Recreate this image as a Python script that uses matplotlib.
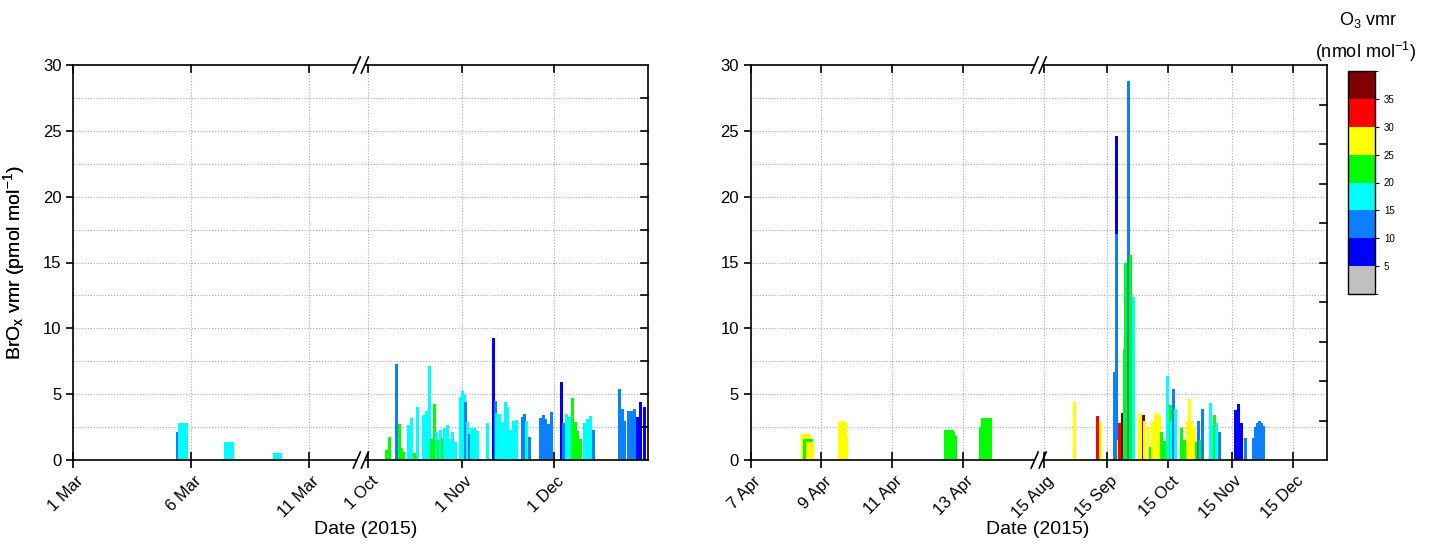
import numpy as np
import pandas as pd
import matplotlib
matplotlib.use("Agg")
import matplotlib.pyplot as plt
from matplotlib.colors import ListedColormap, BoundaryNorm
from matplotlib.cm import ScalarMappable
from matplotlib.ticker import MultipleLocator
from matplotlib.patches import Rectangle
from matplotlib.transforms import ScaledTranslation

plt.rcParams["font.family"] = ["Liberation Sans", "DejaVu Sans"]
plt.rcParams["mathtext.default"] = "regular"

# ---------------- data (day of year 2015, BrOx pmol/mol, O3 nmol/mol) ----------------
left_doy = [
    64.40, 64.49, 64.57, 64.65, 64.73, 64.79,
    66.47, 66.55, 66.63, 66.71, 66.77,
    68.55, 68.63, 68.71, 68.79,
    280.1, 281.3, 283.6, 284.4, 285.0, 285.9, 287.5, 288.3, 289.3, 290.3,
    292.4, 293.4, 294.4, 295.0, 296.0, 296.6, 297.3, 298.0, 298.4, 299.3,
    300.1, 300.9, 301.9, 302.9, 304.5, 305.1, 305.8, 306.1, 306.6, 307.3,
    308.1, 309.1, 310.0, 313.3, 315.4, 315.9, 316.4, 317.2, 318.2, 319.2,
    319.8, 320.8, 321.8, 322.8, 324.7, 325.4, 326.2, 327.2, 330.8, 331.6,
    332.4, 333.2, 334.2, 337.7, 338.3, 339.3, 340.1, 341.1, 342.1, 342.9,
    343.7, 345.0, 346.0, 347.0, 348.1, 356.6, 357.4, 358.2, 359.4, 360.4,
    361.4, 362.3, 363.6, 364.6,
]
left_brox = [
    2.15, 2.8, 2.8, 2.8, 2.8, 2.8,
    1.35, 1.35, 1.35, 1.35, 1.35,
    0.55, 0.55, 0.55, 0.55,
    0.76, 1.75, 7.27, 2.76, 0.9, 0.6, 2.66, 3.16, 0.5, 4.0,
    3.4, 3.7, 7.16, 1.6, 4.25, 2.1, 1.5, 2.3, 1.7, 2.4,
    2.66, 1.6, 2.15, 1.4, 4.8, 5.24, 4.9, 4.43, 2.9, 2.0,
    2.4, 2.4, 2.2, 2.8, 9.24, 4.5, 3.6, 3.5, 2.9, 4.4,
    4.05, 2.28, 3.0, 3.04, 3.3, 3.5, 3.0, 1.77, 3.16, 3.4,
    3.1, 2.7, 3.67, 5.95, 2.8, 3.5, 3.3, 4.7, 2.9, 2.2,
    1.6, 2.8, 3.1, 3.35, 2.28, 5.36, 3.9, 3.0, 3.7, 3.7,
    3.9, 3.3, 4.4, 4.05,
]
left_o3 = [
    12, 17, 17, 17, 17, 17,
    17, 17, 17, 17, 17,
    17, 17, 17, 17,
    22, 22, 12, 22, 22, 22, 17, 17, 22, 17,
    17, 17, 17, 22, 22, 17, 22, 17, 22, 17,
    17, 17, 17, 17, 17, 17, 17, 12, 17, 12,
    17, 17, 17, 17, 8, 12, 17, 17, 17, 17,
    17, 17, 17, 17, 12, 12, 17, 12, 12, 12,
    12, 12, 12, 8, 12, 17, 17, 22, 22, 22,
    22, 17, 17, 17, 12, 12, 12, 12, 12, 12,
    12, 8, 8, 8,
]

right_doy = [
    98.48, 98.53, 98.58, 98.63, 98.66,
    98.52, 98.57, 98.62, 98.67, 98.71,
    98.61, 98.66, 98.71, 98.74,
    99.52, 99.57, 99.62, 99.67, 99.72,
    102.50, 102.55, 102.60, 102.65, 102.70, 102.75, 102.79,
    103.50, 103.55, 103.60, 103.65, 103.70, 103.75, 103.80,
    241.8, 253.5, 254.6, 261.6, 262.6, 262.8, 263.5, 263.9, 265.5, 266.3,
    267.0, 268.5, 269.6, 271.0, 273.8, 275.0, 275.8, 276.5, 278.2, 279.5,
    280.4, 281.7, 282.9, 283.9, 284.6, 286.1, 287.8, 289.0, 289.7, 290.7,
    291.5, 294.5, 296.0, 297.6, 298.6, 299.5, 300.8, 302.0, 302.7, 303.7,
    304.8, 308.7, 309.8, 310.8, 311.8, 313.0, 320.9, 322.6, 323.9, 325.8,
    329.5, 330.7, 331.7, 332.5, 333.6, 334.8,
]
right_brox = [
    2.0, 2.0, 2.0, 2.0, 2.0,
    1.6, 1.6, 1.6, 1.6, 1.6,
    1.35, 1.35, 1.35, 1.35,
    2.9, 2.96, 2.96, 2.9, 1.8,
    2.25, 2.25, 2.25, 2.25, 2.25, 2.1, 1.8,
    2.5, 3.16, 3.16, 3.16, 3.16, 3.16, 3.16,
    4.4, 3.34, 2.9, 6.7, 24.6, 17.2, 1.5, 2.8, 3.55, 8.4,
    15.0, 28.8, 15.56, 12.4, 3.6, 3.1, 3.4, 3.0, 2.5, 1.0,
    2.9, 3.55, 3.5, 3.4, 2.1, 1.45, 6.38, 4.2, 3.0, 5.4,
    3.9, 2.4, 1.55, 3.0, 4.6, 3.0, 2.5, 1.4, 3.0, 1.5,
    3.85, 4.35, 2.6, 3.4, 2.8, 2.15, 3.8, 4.25, 2.8, 1.64,
    1.7, 2.5, 2.78, 2.98, 2.78, 2.6,
]
right_o3 = [
    27, 27, 27, 27, 27,
    22, 22, 22, 22, 22,
    27, 27, 27, 27,
    27, 27, 27, 27, 27,
    22, 22, 22, 22, 22, 22, 22,
    22, 22, 22, 22, 22, 22, 22,
    27, 32, 27, 12, 8, 12, 27, 32, 37, 22,
    22, 12, 22, 17, 27, 27, 37, 27, 27, 22,
    27, 27, 27, 27, 22, 22, 17, 22, 17, 12,
    17, 22, 22, 27, 27, 27, 27, 22, 12, 22,
    12, 17, 17, 22, 17, 12, 8, 8, 8, 12,
    12, 12, 12, 12, 12, 12,
]

left_tick_dates = ["2015-03-01", "2015-03-06", "2015-03-11",
                   "2015-10-01", "2015-11-01", "2015-12-01"]
left_tick_labels = ["1 Mar", "6 Mar", "11 Mar", "1 Oct", "1 Nov", "1 Dec"]
right_tick_dates = ["2015-04-07", "2015-04-09", "2015-04-11", "2015-04-13",
                    "2015-08-15", "2015-09-15", "2015-10-15", "2015-11-15", "2015-12-15"]
right_tick_labels = ["7 Apr", "9 Apr", "11 Apr", "13 Apr",
                     "15 Aug", "15 Sep", "15 Oct", "15 Nov", "15 Dec"]

o3_bounds = [0, 5, 10, 15, 20, 25, 30, 35, 40]
o3_colors = ["#c0c0c0", "#0000ff", "#0a80ff", "#00ffff",
             "#00ff00", "#ffff00", "#ff0000", "#800000"]
o3_ticks = [5, 10, 15, 20, 25, 30, 35]

# ---------------- layout ----------------
FIG_W, FIG_H = 1435, 549
BAR_PX = 3.0
left_box = (73.4, 65, 648.3, 460)        # left, top, right, bottom (px)
right_box = (750.7, 65, 1326.7, 460)
cbar_box = (1348, 71, 1375, 294)
left_segments = ((60.0, 72.2), (271.8, 366.0))
right_segments = ((97.0, 105.15), (224.5, 365.6))

cmap = ListedColormap(o3_colors)
norm = BoundaryNorm(o3_bounds, cmap.N)

GRID_KW = dict(color="#a8a8a8", linestyle=(0, (1, 1.6)), linewidth=0.8)


def to_doy(dates):
    return pd.to_datetime(pd.Series(dates)).dt.dayofyear.to_numpy(float)


def box_to_rect(box):
    l, t, r, b = box
    return [l / FIG_W, 1 - b / FIG_H, (r - l) / FIG_W, (b - t) / FIG_H]


def piecewise(seg):
    (a0, a1), (b0, b1) = seg

    def fwd(x):
        x = np.asarray(x, float)
        return np.where(x <= a1, 0.5 * (x - a0) / (a1 - a0),
                        np.where(x >= b0, 0.5 + 0.5 * (x - b0) / (b1 - b0), 0.5))

    def inv(y):
        y = np.asarray(y, float)
        return np.where(y <= 0.5, a0 + 2 * y * (a1 - a0),
                        b0 + 2 * (y - 0.5) * (b1 - b0))
    return fwd, inv


def draw_panel(ax, box, doy, brox, o3, seg, tick_dates, tick_labels, right_ticks):
    ax_px = box[2] - box[0]
    ax_hpx = box[3] - box[1]
    fwd, inv = piecewise(seg)
    ax.set_xscale("function", functions=(fwd, inv))
    ax.set_xlim(seg[0][0], seg[1][1])
    ax.set_ylim(0, 30)

    doy = np.asarray(doy, float)
    px_per_day = np.where(doy <= seg[0][1],
                          0.5 * ax_px / (seg[0][1] - seg[0][0]),
                          0.5 * ax_px / (seg[1][1] - seg[1][0]))
    ax.bar(doy, brox, width=BAR_PX / px_per_day, color=cmap(norm(np.asarray(o3))),
           linewidth=0, zorder=2)

    ticks = to_doy(tick_dates)
    ax.set_xticks(ticks)
    ax.set_xticklabels(tick_labels, rotation=45, ha="right", va="center",
                       rotation_mode="anchor")
    ax.tick_params(axis="x", direction="inout", length=11, width=1.2,
                   labelsize=12, pad=8)
    off = ScaledTranslation(8 / 100, 0, ax.figure.dpi_scale_trans)
    for lab in ax.get_xticklabels():
        lab.set_transform(lab.get_transform() + off)

    ax.set_yticks(range(0, 31, 5))
    ax.yaxis.set_minor_locator(MultipleLocator(2.5))
    ax.tick_params(axis="y", which="major", direction="out", length=5,
                   width=1.2, labelsize=12)
    ax.tick_params(axis="y", which="minor", length=0)

    ax.set_axisbelow(True)
    ax.grid(True, axis="y", which="both", **GRID_KW)
    ax.grid(True, axis="x", which="major", **GRID_KW)

    for sp in ax.spines.values():
        sp.set_linewidth(1.2)

    # inward ticks on top and right spines
    for t in ticks:
        ax.plot([t, t], [1, 1 - 7 / ax_hpx], transform=ax.get_xaxis_transform(),
                color="black", lw=1.2, clip_on=False, zorder=4)
    for v in right_ticks:
        ax.plot([1, 1 - 7 / ax_px], [v, v], transform=ax.get_yaxis_transform(),
                color="black", lw=1.2, clip_on=False, zorder=4)

    # axis break marks
    gx = 4 / ax_px
    for y in (0, 1):
        ax.add_patch(Rectangle((0.5 - gx, y - 2 / ax_hpx), 2 * gx, 4 / ax_hpx,
                               transform=ax.transAxes, facecolor="white",
                               edgecolor="none", clip_on=False, zorder=5))
        for cx in (0.5 - gx, 0.5 + gx):
            ax.plot([cx - 3.5 / ax_px, cx + 3.5 / ax_px],
                    [y - 8 / ax_hpx, y + 8 / ax_hpx],
                    transform=ax.transAxes, color="black", lw=1.2,
                    clip_on=False, zorder=6)

    ax.set_ylabel(r"BrO$_x$ vmr (pmol mol$^{-1}$)", fontsize=14)
    ax.yaxis.set_label_coords((27 - box[0]) / ax_px, 0.5)


fig = plt.figure(figsize=(FIG_W / 100, FIG_H / 100), dpi=100)
axL = fig.add_axes(box_to_rect(left_box))
axR = fig.add_axes(box_to_rect(right_box))

draw_panel(axL, left_box, left_doy, left_brox, left_o3, left_segments,
           left_tick_dates, left_tick_labels, np.arange(2.5, 30, 2.5))
draw_panel(axR, right_box, right_doy, right_brox, right_o3, right_segments,
           right_tick_dates, right_tick_labels, np.arange(3, 30, 3))

fig.text(366 / FIG_W, 1 - 530 / FIG_H, "Date (2015)", ha="center", va="center", fontsize=14)
fig.text(1038 / FIG_W, 1 - 530 / FIG_H, "Date (2015)", ha="center", va="center", fontsize=14)

cax = fig.add_axes(box_to_rect(cbar_box))
cb = fig.colorbar(ScalarMappable(norm=norm, cmap=cmap), cax=cax, ticks=o3_ticks)
cb.ax.tick_params(labelsize=7, length=3, width=0.8)
cb.outline.set_linewidth(1.0)
fig.text(1368 / FIG_W, 1 - 20 / FIG_H, r"O$_3$ vmr", ha="center", va="center", fontsize=13)
fig.text(1365 / FIG_W, 1 - 52 / FIG_H, r"(nmol mol$^{-1}$)", ha="center", va="center", fontsize=13)

fig.savefig("out.png", dpi=100)
